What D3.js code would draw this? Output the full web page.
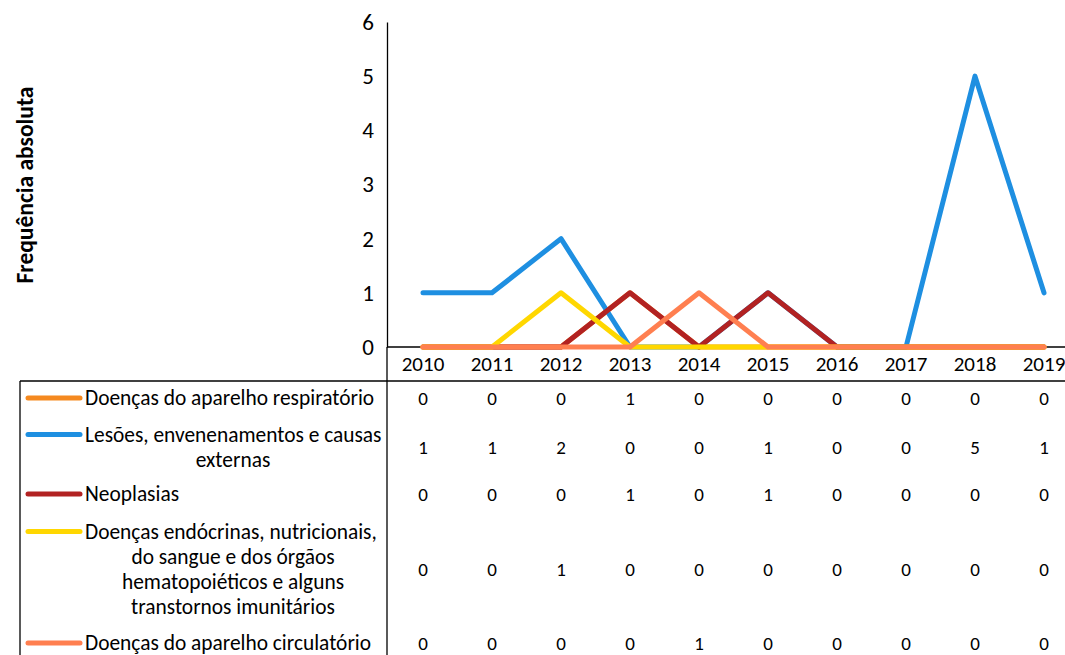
<!DOCTYPE html>
<html>
<head>
<meta charset="utf-8">
<script src="https://cdn.jsdelivr.net/npm/d3@7"></script>
<style>
  body { margin: 0; background: #fff; }
  svg { display: block; font-family: Carlito, Lato, "Liberation Sans", sans-serif; }
</style>
</head>
<body>
<script>
const years = ["2010","2011","2012","2013","2014","2015","2016","2017","2018","2019"];

const seriesNames = [
  ["Doenças do aparelho respiratório"],
  ["Lesões, envenenamentos e causas", "externas"],
  ["Neoplasias"],
  ["Doenças endócrinas, nutricionais,", "do sangue e dos órgãos", "hematopoiéticos e alguns", "transtornos imunitários"],
  ["Doenças do aparelho circulatório"]
];
const respiratorio = [0,0,0,1,0,0,0,0,0,0];
const lesoes       = [1,1,2,0,0,1,0,0,5,1];
const neoplasias   = [0,0,0,1,0,1,0,0,0,0];
const endocrinas   = [0,0,1,0,0,0,0,0,0,0];
const circulatorio = [0,0,0,0,1,0,0,0,0,0];
const seriesColors = ["#f5891f", "#1e8fe1", "#b22222", "#ffd700", "#ff7f50"];
const yTicks = [0,1,2,3,4,5,6];

const allSeries = [respiratorio, lesoes, neoplasias, endocrinas, circulatorio];

const width = 1065, height = 655;
const svg = d3.select("body").append("svg")
  .attr("width", width).attr("height", height);

const x = d3.scaleBand().domain(years).range([388.5, 1078.5]);
const y = d3.scaleLinear().domain([0, 6]).range([347, 22]);

// y axis
const yAxis = svg.append("g").attr("transform", "translate(387,0)")
  .call(d3.axisLeft(y).tickValues(yTicks).tickSize(0).tickPadding(13).tickFormat(d3.format("d")));
yAxis.select(".domain").attr("stroke", "#000").attr("stroke-width", 1.3);
yAxis.selectAll("text").attr("font-size", 23).attr("fill", "#000")
  .attr("font-family", "Carlito, Lato, sans-serif");

// category axis line
svg.append("line").attr("x1", 387).attr("x2", width).attr("y1", y(0)).attr("y2", y(0))
  .attr("stroke", "#000").attr("stroke-width", 1.3);

svg.append("g").selectAll("text").data(years).join("text")
  .attr("x", d => x(d) + x.bandwidth() / 2).attr("y", 364)
  .attr("text-anchor", "middle").attr("dominant-baseline", "central")
  .attr("font-size", 21).text(d => d);

// y title
svg.append("text")
  .attr("transform", "translate(25,185) rotate(-90)")
  .attr("text-anchor", "middle").attr("dominant-baseline", "central")
  .attr("font-size", 23.5).attr("font-weight", "bold")
  .text("Frequência absoluta");

// lines
const line = d3.line()
  .x((d, i) => x(years[i]) + x.bandwidth() / 2)
  .y(d => y(d));

svg.append("g").selectAll("path").data(allSeries).join("path")
  .attr("d", line)
  .attr("fill", "none")
  .attr("stroke", (d, i) => seriesColors[i])
  .attr("stroke-width", 5)
  .attr("stroke-linejoin", "round")
  .attr("stroke-linecap", "round");

// data table
const rowCenters = [398, 447, 494, 569, 643];
const lineGap = 25;

svg.append("line").attr("x1", 20).attr("x2", width).attr("y1", 381).attr("y2", 381)
  .attr("stroke", "#000").attr("stroke-width", 1.3);
svg.append("line").attr("x1", 20).attr("x2", 20).attr("y1", 381).attr("y2", height)
  .attr("stroke", "#000").attr("stroke-width", 1.3);
svg.append("line").attr("x1", 387).attr("x2", 387).attr("y1", y(0)).attr("y2", height)
  .attr("stroke", "#000").attr("stroke-width", 1.3);

const rows = svg.append("g").selectAll("g").data(allSeries).join("g");

rows.append("line")
  .attr("x1", 28).attr("x2", 80)
  .attr("y1", (d, i) => rowCenters[i] - (seriesNames[i].length - 1) * lineGap / 2)
  .attr("y2", (d, i) => rowCenters[i] - (seriesNames[i].length - 1) * lineGap / 2)
  .attr("stroke", (d, i) => seriesColors[i])
  .attr("stroke-width", 5).attr("stroke-linecap", "round");

rows.each(function(d, i) {
  const g = d3.select(this);
  const names = seriesNames[i];
  const top = rowCenters[i] - (names.length - 1) * lineGap / 2;
  names.forEach((t, k) => {
    g.append("text")
      .attr("x", k === 0 ? 85 : 233)
      .attr("y", top + k * lineGap)
      .attr("text-anchor", k === 0 ? "start" : "middle")
      .attr("dominant-baseline", "central")
      .attr("font-size", 21.4)
      .text(t);
  });
  g.selectAll("text.val").data(d).join("text")
    .attr("class", "val")
    .attr("x", (v, j) => x(years[j]) + x.bandwidth() / 2)
    .attr("y", rowCenters[i])
    .attr("text-anchor", "middle").attr("dominant-baseline", "central")
    .attr("font-size", 19)
    .text(v => v);
});
</script>
</body>
</html>
